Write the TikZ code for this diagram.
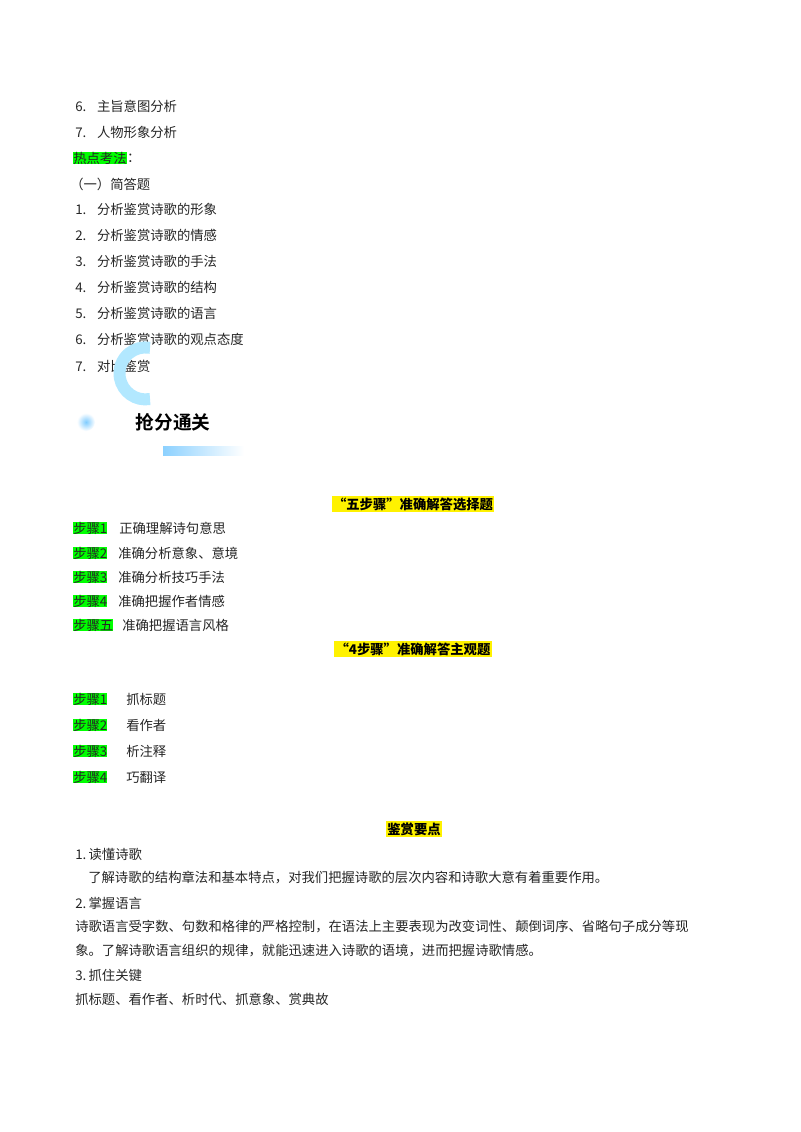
\documentclass[tikz,border=0pt]{standalone}
\usepackage{fontspec}
\setmainfont{Liberation Serif}
\newfontfamily\cjk{Noto Sans CJK SC}
\newfontfamily\cjkb{Noto Sans CJK SC}[BoldFont={Noto Sans CJK SC Bold}]
\begin{document}
\begin{tikzpicture}[x=0.75pt,y=-0.75pt,
  t/.style={anchor=west,inner sep=0pt,font=\fontsize{10pt}{12pt}\cjk,text=black!85},
  hl/.style={t,fill=green},
  ttl/.style={inner sep=1pt,fill=yellow,font=\fontsize{10pt}{12pt}\cjk\bfseries}]
\useasboundingbox (0,0) rectangle (800,1132);
\fill[white] (0,0) rectangle (800,1132);
\node[t] (a1) at (75,106) {6.\hspace{8pt}主旨意图分析};
\node[t] (a2) at (75,132) {7.\hspace{8pt}人物形象分析};
\node[hl] (a3) at (73,158) {热点考法};
\node[t] (a3b) at (a3.east) {：};
\node[t] (a4) at (70,184) {（一）简答题};
\node[t] (b1) at (75,209) {1.\hspace{8pt}分析鉴赏诗歌的形象};
\node[t] (b2) at (75,235) {2.\hspace{8pt}分析鉴赏诗歌的情感};
\node[t] (b3) at (75,261) {3.\hspace{8pt}分析鉴赏诗歌的手法};
\node[t] (b4) at (75,287) {4.\hspace{8pt}分析鉴赏诗歌的结构};
\node[t] (b5) at (75,313) {5.\hspace{8pt}分析鉴赏诗歌的语言};
\node[t] (b6) at (75,339) {6.\hspace{8pt}分析鉴赏诗歌的观点态度};
\node[t] (b7) at (75,366) {7.\hspace{8pt}对比鉴赏};
% logo
\shade[inner color=blue!40!cyan!50,outer color=white] (86,422) circle (9);
\draw[line width=9pt,blue!30!cyan!30] (150,399) arc (80:280:26);
\shade[left color=blue!40!cyan!45,right color=white] (163,446) rectangle (244,455);
\node[inner sep=0pt,font=\fontsize{14pt}{16pt}\cjkb\bfseries] (logo) at (173,422) {抢分通关};
% five steps
\node[ttl] (t1) at (413,504) {“五步骤”准确解答选择题};
\node[hl] (s1) at (73,528) {步骤1}; \node[t] at (119,528) {正确理解诗句意思};
\node[hl] (s2) at (73,553) {步骤2\ }; \node[t] at (118,553) {准确分析意象、意境};
\node[hl] (s3) at (73,577) {步骤3}; \node[t] at (118,577) {准确分析技巧手法};
\node[hl] (s4) at (73,601) {步骤4}; \node[t] at (118,601) {准确把握作者情感};
\node[hl] (s5) at (73,625) {步骤五}; \node[t] at (122,625) {准确把握语言风格};
\node[ttl] (t2) at (413,649) {“4步骤”准确解答主观题};
\node[hl] (u1) at (73,699) {步骤1\ }; \node[t] at (126,699) {抓标题};
\node[hl] (u2) at (73,725) {步骤2\ }; \node[t] at (126,725) {看作者};
\node[hl] (u3) at (73,751) {步骤3\ }; \node[t] at (126,751) {析注释};
\node[hl] (u4) at (73,777) {步骤4\ }; \node[t] at (126,777) {巧翻译};
\node[ttl] (t3) at (414,829) {鉴赏要点};
\node[t] (c1) at (75,854) {1.\,读懂诗歌};
\node[t] (c2) at (88,878) {了解诗歌的结构章法和基本特点，对我们把握诗歌的层次内容和诗歌大意有着重要作用。};
\node[t] (c3) at (75,903) {2.\,掌握语言};
\node[t] (c4) at (75,927) {诗歌语言受字数、句数和格律的严格控制，在语法上主要表现为改变词性、颠倒词序、省略句子成分等现};
\node[t] (c5) at (75,951) {象。了解诗歌语言组织的规律，就能迅速进入诗歌的语境，进而把握诗歌情感。};
\node[t] (c6) at (75,975) {3.\,抓住关键};
\node[t] (c7) at (75,999) {抓标题、看作者、析时代、抓意象、赏典故};
\end{tikzpicture}
\end{document}
